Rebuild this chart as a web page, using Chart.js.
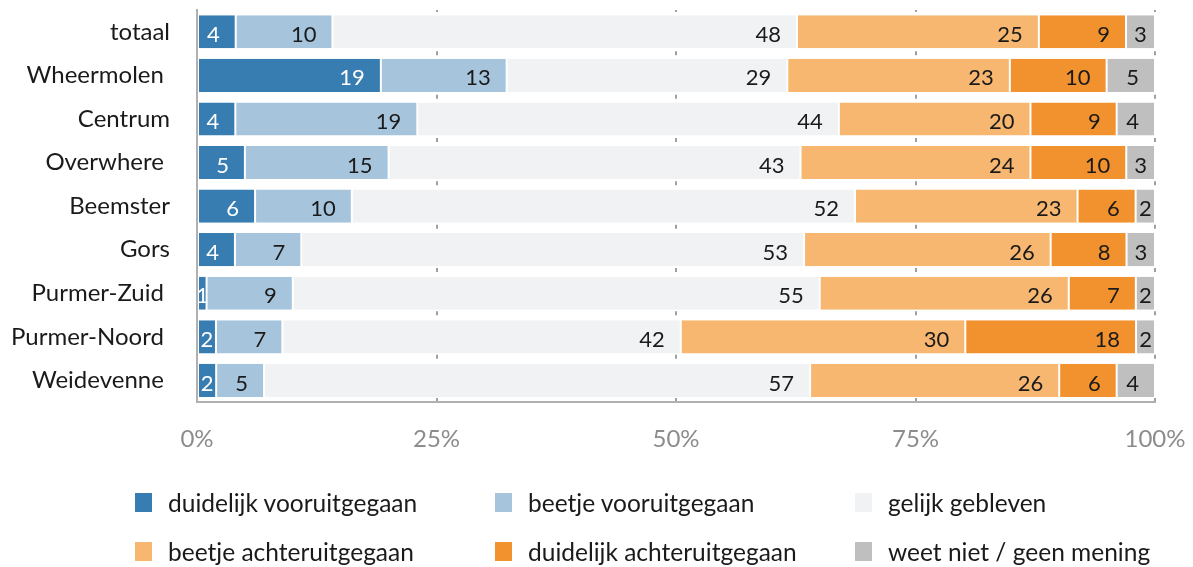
<!DOCTYPE html>
<html>
<head>
<meta charset="utf-8">
<script src="https://cdn.jsdelivr.net/npm/chart.js@4"></script>
<style>
  html, body { margin: 0; padding: 0; background: #ffffff; }
  #wrap { position: relative; width: 1193px; height: 567px; overflow: hidden; }
  #c { position: absolute; left: 0; top: 0; }
  .lg { position: absolute; display: flex; align-items: center; font-family: Lato, sans-serif; font-size: 24.5px; color: #1a1a1a; white-space: nowrap; }
  .lg .box { width: 17px; height: 19px; margin-right: 16px; }
</style>
</head>
<body>
<div id="wrap">
  <canvas id="c" width="1193" height="567"></canvas>
  <div id="legend"></div>
</div>
<script>
const categories = ['totaal', 'Wheermolen ', 'Centrum', 'Overwhere ', 'Beemster', 'Gors', 'Purmer-Zuid ', 'Purmer-Noord ', 'Weidevenne '];
const duidelijkVooruit   = [4, 19, 4, 5, 6, 4, 1, 2, 2];
const beetjeVooruit      = [10, 13, 19, 15, 10, 7, 9, 7, 5];
const gelijkGebleven     = [48, 29, 44, 43, 52, 53, 55, 42, 57];
const beetjeAchteruit    = [25, 23, 20, 24, 23, 26, 26, 30, 26];
const duidelijkAchteruit = [9, 10, 9, 10, 6, 8, 7, 18, 6];
const weetNiet           = [3, 5, 4, 3, 2, 3, 2, 2, 4];
const seriesNames = ['duidelijk vooruitgegaan', 'beetje vooruitgegaan', 'gelijk gebleven', 'beetje achteruitgegaan', 'duidelijk achteruitgegaan', 'weet niet / geen mening'];
const xTicks = [0, 25, 50, 75, 100];

const seriesValues = [duidelijkVooruit, beetjeVooruit, gelijkGebleven, beetjeAchteruit, duidelijkAchteruit, weetNiet];
const colors = ['#387db1', '#a6c5dd', '#f1f2f4', '#f7b771', '#f1922e', '#bfbfbf'];
const labelColors = ['#ffffff', '#1a1a1a', '#1a1a1a', '#1a1a1a', '#1a1a1a', '#1a1a1a'];

// 100% stacked: normalise each row to its total
const rowTotals = categories.map((_, i) => seriesValues.reduce((s, arr) => s + arr[i], 0));

const datasets = seriesValues.map((arr, k) => ({
  label: seriesNames[k],
  data: arr.map((v, i) => v / rowTotals[i] * 100),
  rawValues: arr,
  backgroundColor: colors[k],
  borderColor: '#ffffff',
  borderWidth: { left: 1, right: 1, top: 0, bottom: 0 },
  borderSkipped: false,
  categoryPercentage: 1,
  barPercentage: 0.76
}));

const valueLabels = {
  id: 'valueLabels',
  afterDatasetsDraw(chart) {
    const ctx = chart.ctx;
    ctx.save();
    ctx.font = '22px Lato, sans-serif';
    ctx.textBaseline = 'middle';
    chart.data.datasets.forEach((ds, k) => {
      const meta = chart.getDatasetMeta(k);
      meta.data.forEach((el, i) => {
        const txt = String(ds.rawValues[i]);
        const w = ctx.measureText(txt).width;
        const start = Math.min(el.base, el.x), end = Math.max(el.base, el.x);
        ctx.fillStyle = labelColors[k];
        let x;
        if (end - start >= w + 22) {
          ctx.textAlign = 'right';
          x = end - 16;
        } else {
          ctx.textAlign = 'center';
          x = (start + end) / 2;
        }
        ctx.fillText(txt, x, el.y + 3);
      });
    });
    ctx.restore();
  }
};

const rowPitch = (400 - 10) / categories.length;

new Chart(document.getElementById('c'), {
  type: 'bar',
  data: { labels: categories, datasets },
  options: {
    indexAxis: 'y',
    responsive: false,
    animation: false,
    layout: { padding: { top: 10, right: 38, bottom: 90, left: 0 } },
    plugins: { legend: { display: false }, tooltip: { enabled: false } },
    scales: {
      x: {
        stacked: true,
        min: 0,
        max: 100,
        afterBuildTicks(scale) { scale.ticks = xTicks.map(v => ({ value: v })); },
        afterFit(scale) { scale.paddingLeft = 0; scale.paddingRight = 0; scale.paddingTop = 0; scale.paddingBottom = 0; },
        ticks: {
          callback: v => v + '%',
          color: '#8c8c8c',
          font: { family: 'Lato, sans-serif', size: 24 },
          padding: 23,
          maxRotation: 0
        },
        grid: { color: '#a0a0a0', lineWidth: 2, drawTicks: false },
        border: { display: true, color: '#b0b0b0', width: 2, dash: [4, rowPitch - 4], dashOffset: 2 }
      },
      y: {
        stacked: true,
        afterFit(scale) { scale.width = 197; scale.paddingTop = 0; scale.paddingBottom = 0; scale.paddingLeft = 0; scale.paddingRight = 0; },
        ticks: {
          color: '#1a1a1a',
          font: { family: 'Lato, sans-serif', size: 24 },
          padding: 27
        },
        grid: { display: false, drawTicks: false },
        border: { display: true, color: '#b0b0b0', width: 2 }
      }
    }
  },
  plugins: [valueLabels]
});

// legend laid out as a 3-column grid
const legendEl = document.getElementById('legend');
const cols = [135, 495, 855];
const rows = [493, 542];
seriesNames.forEach((name, k) => {
  const d = document.createElement('div');
  d.className = 'lg';
  d.style.left = cols[k % 3] + 'px';
  d.style.top = (rows[Math.floor(k / 3)] - 4) + 'px';
  d.style.height = '27px';
  const b = document.createElement('span');
  b.className = 'box';
  b.style.background = colors[k];
  const t = document.createElement('span');
  t.textContent = name;
  d.appendChild(b);
  d.appendChild(t);
  legendEl.appendChild(d);
});
</script>
</body>
</html>
